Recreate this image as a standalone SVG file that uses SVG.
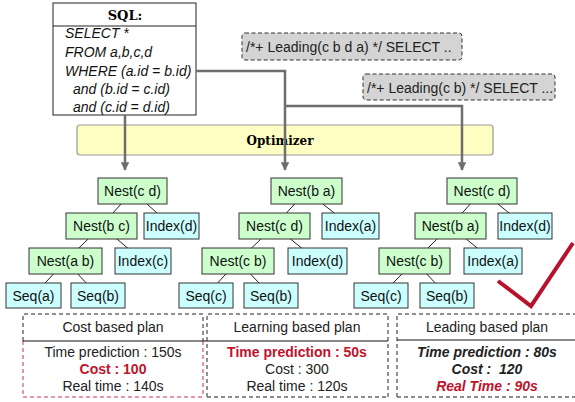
<svg xmlns="http://www.w3.org/2000/svg" width="575" height="402" viewBox="0 0 575 402">
  <style>
    .sans { font-family: "Liberation Sans", Arial, sans-serif; }
    .slab { font-family: "DejaVu Serif", serif; font-weight: bold; }
    .code { font-family: "Liberation Sans", Arial, sans-serif; font-style: italic; font-size: 14px; fill: #111; }
    .hint rect { fill: #d4d4d4; stroke: #333; stroke-width: 1; stroke-dasharray: 4 2.5; }
    .hint text { font-family: "Liberation Sans", Arial, sans-serif; font-size: 14px; fill: #222; }
    .nest rect { fill: #ccffcc; stroke: #333; stroke-width: 1; }
    .scan rect { fill: #ccffff; stroke: #333; stroke-width: 1; }
    .node text { font-family: "Liberation Sans", Arial, sans-serif; font-size: 14px; fill: #111; text-anchor: middle; }
    .edge { stroke: #222; stroke-width: 1; }
    .flow { fill: none; stroke: #6e6e6e; stroke-width: 2.5; }
    .dash { fill: none; stroke: #222; stroke-width: 1; stroke-dasharray: 4 3; }
    .dashbot { fill: none; stroke: #666; stroke-width: 1.6; stroke-dasharray: 4 3; }
    .dashred { fill: none; stroke: #c8304a; stroke-width: 1; stroke-dasharray: 4 3; }
    .plan { font-family: "Liberation Sans", Arial, sans-serif; font-size: 14px; fill: #222; text-anchor: middle; }
    .red { fill: #c0132b; }
    .b { font-weight: bold; }
    .bi { font-weight: bold; font-style: italic; }
  </style>
  <defs>
    <marker id="arrow" viewBox="0 0 10 10" refX="9" refY="5" markerWidth="3.4" markerHeight="3.4" orient="auto">
      <path d="M0,0 L10,5 L0,10 Z" fill="#6e6e6e"/>
    </marker>
  </defs>

  <!-- SQL query -->
  <g id="sql">
    <rect x="53" y="3" width="143" height="112" fill="#fff" stroke="#222" stroke-width="1"/>
    <line x1="53" y1="26" x2="196" y2="26" stroke="#222" stroke-width="1"/>
    <text x="125" y="20" class="slab" font-size="13" text-anchor="middle">SQL:</text>
    <text x="65" y="38" class="code">SELECT *</text>
    <text x="65" y="57" class="code">FROM a,b,c,d</text>
    <text x="65" y="76" class="code">WHERE (a.id = b.id)</text>
    <text x="73" y="94" class="code">and (b.id = c.id)</text>
    <text x="73" y="112" class="code">and (c.id = d.id)</text>
  </g>

  <!-- hints -->
  <g id="hint1" class="hint">
    <rect x="242" y="33" width="220" height="27" rx="3"/>
    <text x="246" y="52">/*+ Leading(c b d a) */ SELECT ..</text>
  </g>
  <g id="hint2" class="hint">
    <rect x="363" y="74" width="192" height="26" rx="3"/>
    <text x="367" y="93">/*+ Leading(c b) */ SELECT ...</text>
  </g>

  <!-- optimizer -->
  <g id="optimizer">
    <rect x="77" y="125" width="416" height="30" rx="3" fill="#ffffc4" stroke="#9a9a9a" stroke-width="1.2"/>
    <text x="280" y="145" class="slab" font-size="12" text-anchor="middle">Optimizer</text>
  </g>

  <!-- flow arrows -->
  <g id="connectors">
    <path class="flow" d="M125,115 V170" marker-end="url(#arrow)"/>
    <path class="flow" d="M196,71 H285 V170" marker-end="url(#arrow)"/>
    <path class="flow" d="M285,106 H462 V170" marker-end="url(#arrow)"/>

    <!-- plan tree edges (centre to centre, boxes drawn above) -->
    <line class="edge" x1="132.5" y1="191" x2="101.5" y2="226"/>
    <line class="edge" x1="132.5" y1="191" x2="171.5" y2="226"/>
    <line class="edge" x1="101.5" y1="226" x2="65.5" y2="261"/>
    <line class="edge" x1="101.5" y1="226" x2="143" y2="261"/>
    <line class="edge" x1="65.5" y1="261" x2="33.5" y2="295.5"/>
    <line class="edge" x1="65.5" y1="261" x2="98" y2="295.5"/>

    <line class="edge" x1="306.5" y1="191" x2="274.5" y2="226"/>
    <line class="edge" x1="306.5" y1="191" x2="350.5" y2="226"/>
    <line class="edge" x1="274.5" y1="226" x2="238" y2="261"/>
    <line class="edge" x1="274.5" y1="226" x2="317.5" y2="261"/>
    <line class="edge" x1="238" y1="261" x2="206" y2="295.5"/>
    <line class="edge" x1="238" y1="261" x2="271" y2="295.5"/>

    <line class="edge" x1="482" y1="191" x2="450.5" y2="226"/>
    <line class="edge" x1="482" y1="191" x2="525" y2="226"/>
    <line class="edge" x1="450.5" y1="226" x2="414.5" y2="261"/>
    <line class="edge" x1="450.5" y1="226" x2="493" y2="261"/>
    <line class="edge" x1="414.5" y1="261" x2="381" y2="295.5"/>
    <line class="edge" x1="414.5" y1="261" x2="447" y2="295.5"/>
  </g>

  <!-- cost based plan tree -->
  <g id="l-nest-cd" class="node nest"><rect x="98" y="178" width="69" height="26"/><text x="132.5" y="196">Nest(c d)</text></g>
  <g id="l-nest-bc" class="node nest"><rect x="66" y="213" width="71" height="26"/><text x="101.5" y="231">Nest(b c)</text></g>
  <g id="l-index-d" class="node scan"><rect x="144" y="213" width="55" height="26"/><text x="171.5" y="231">Index(d)</text></g>
  <g id="l-nest-ab" class="node nest"><rect x="29" y="248" width="73" height="26"/><text x="65.5" y="266">Nest(a b)</text></g>
  <g id="l-index-c" class="node scan"><rect x="115" y="248" width="56" height="26"/><text x="143" y="266">Index(c)</text></g>
  <g id="l-seq-a" class="node scan"><rect x="6" y="283" width="55" height="25"/><text x="33.5" y="300.5">Seq(a)</text></g>
  <g id="l-seq-b" class="node scan"><rect x="71" y="283" width="54" height="25"/><text x="98" y="300.5">Seq(b)</text></g>

  <!-- learning based plan tree -->
  <g id="m-nest-ba" class="node nest"><rect x="271" y="178" width="71" height="26"/><text x="306.5" y="196">Nest(b a)</text></g>
  <g id="m-nest-cd" class="node nest"><rect x="239" y="213" width="71" height="26"/><text x="274.5" y="231">Nest(c d)</text></g>
  <g id="m-index-a" class="node scan"><rect x="322" y="213" width="57" height="26"/><text x="350.5" y="231">Index(a)</text></g>
  <g id="m-nest-cb" class="node nest"><rect x="202" y="248" width="72" height="26"/><text x="238" y="266">Nest(c b)</text></g>
  <g id="m-index-d" class="node scan"><rect x="288" y="248" width="59" height="26"/><text x="317.5" y="266">Index(d)</text></g>
  <g id="m-seq-c" class="node scan"><rect x="179" y="283" width="54" height="25"/><text x="206" y="300.5">Seq(c)</text></g>
  <g id="m-seq-b" class="node scan"><rect x="244" y="283" width="54" height="25"/><text x="271" y="300.5">Seq(b)</text></g>

  <!-- leading based plan tree -->
  <g id="r-nest-cd" class="node nest"><rect x="447" y="178" width="70" height="26"/><text x="482" y="196">Nest(c d)</text></g>
  <g id="r-nest-ba" class="node nest"><rect x="415" y="213" width="71" height="26"/><text x="450.5" y="231">Nest(b a)</text></g>
  <g id="r-index-d" class="node scan"><rect x="498" y="213" width="54" height="26"/><text x="525" y="231">Index(d)</text></g>
  <g id="r-nest-cb" class="node nest"><rect x="379" y="248" width="71" height="26"/><text x="414.5" y="266">Nest(c b)</text></g>
  <g id="r-index-a" class="node scan"><rect x="464" y="248" width="58" height="26"/><text x="493" y="266">Index(a)</text></g>
  <g id="r-seq-c" class="node scan"><rect x="354" y="283" width="54" height="25"/><text x="381" y="300.5">Seq(c)</text></g>
  <g id="r-seq-b" class="node scan"><rect x="420" y="283" width="54" height="25"/><text x="447" y="300.5">Seq(b)</text></g>

  <!-- check mark -->
  <g id="check">
    <path d="M498,281 L531,306 L573,243" fill="none" stroke="#b8112a" stroke-width="4" stroke-linejoin="miter"/>
  </g>

  <!-- plan summaries -->
  <g id="cost-plan">
    <path class="dash" d="M23,341 V314 H203 V341"/>
    <path class="dashred" d="M23,341 V397 M203,341 V397"/>
    <line x1="23" y1="397" x2="203" y2="397" class="dashred" stroke-width="1.6"/>
    <text class="plan" x="113" y="332">Cost based plan</text>
    <text class="plan" x="113" y="357">Time prediction : 150s</text>
    <text class="plan red b" x="113" y="374">Cost : 100</text>
    <text class="plan" x="113" y="391">Real time : 140s</text>
  </g>
  <g id="learning-plan">
    <path class="dash" d="M207,397 V314 H388 V397"/>
    <line class="dashbot" x1="207" y1="397" x2="388" y2="397"/>
    <text class="plan" x="297" y="332">Learning based plan</text>
    <text class="plan red b" x="297" y="357">Time prediction : 50s</text>
    <text class="plan" x="297" y="374">Cost : 300</text>
    <text class="plan" x="297" y="391">Real time : 120s</text>
  </g>
  <line x1="23" y1="341" x2="388" y2="341" stroke="#111" stroke-width="1"/>
  <g id="leading-plan">
    <path class="dash" d="M397,397 V314 H575"/>
    <line class="dashbot" x1="397" y1="397" x2="575" y2="397"/>
    <line x1="397" y1="340" x2="575" y2="340" stroke="#111" stroke-width="1"/>
    <text class="plan" x="487" y="332">Leading based plan</text>
    <text class="plan bi" x="487" y="357" fill="#111">Time prediction : 80s</text>
    <text class="plan bi" x="487" y="374" fill="#111" xml:space="preserve">Cost :  120</text>
    <text class="plan bi red" x="487" y="391">Real Time : 90s</text>
  </g>
</svg>
